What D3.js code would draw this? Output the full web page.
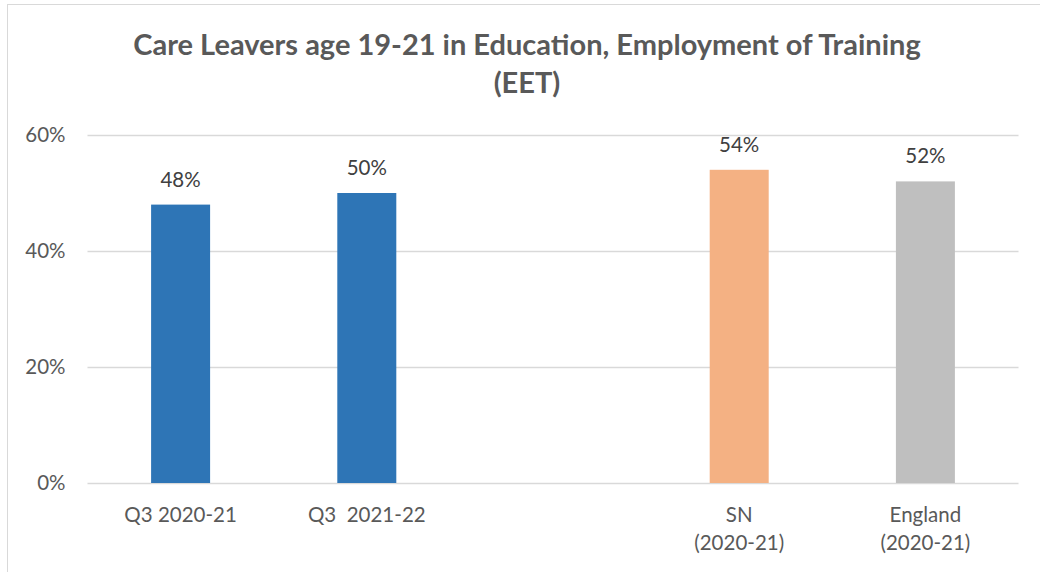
<!DOCTYPE html>
<html>
<head>
<meta charset="utf-8">
<title>Care Leavers EET</title>
<script src="https://d3js.org/d3.v7.min.js"></script>
<style>
  body { margin: 0; background: #fff; }
  text { font-family: Lato, "Open Sans", sans-serif; }
</style>
</head>
<body>
<svg id="chart"></svg>
<script>
// data
var categories = ["Q3 2020-21", "Q3  2021-22", "", "SN\n(2020-21)", "England\n(2020-21)"];
var values = [0.48, 0.50, null, 0.54, 0.52];
var colors = ["#2e75b6", "#2e75b6", null, "#f4b183", "#bfbfbf"];
var yTicks = [0, 0.2, 0.4, 0.6];
var titleLines = ["Care Leavers age 19-21 in Education, Employment of Training", "(EET)"];

var W = 1040, H = 572;
var margin = {top: 135, right: 22, bottom: 89, left: 87.5};

var svg = d3.select("#chart").attr("width", W).attr("height", H);

// outer chart border
svg.append("rect")
  .attr("x", 7.5).attr("y", 4.5)
  .attr("width", W).attr("height", H)
  .attr("fill", "none").attr("stroke", "#d9d9d9").attr("stroke-width", 1);

var x = d3.scaleBand()
  .domain(d3.range(categories.length))
  .range([margin.left, W - margin.right + 0.5])
  .padding(0);

var y = d3.scaleLinear()
  .domain([0, 0.6])
  .range([H - margin.bottom, margin.top]);

// title
svg.append("g").selectAll("text")
  .data(titleLines)
  .enter().append("text")
  .attr("x", 527)
  .attr("y", function(d, i) { return 55 + i * 38; })
  .attr("text-anchor", "middle")
  .attr("fill", "#595959")
  .attr("font-weight", "bold")
  .attr("font-size", 29)
  .text(function(d) { return d; });

// gridlines + y labels
var yAxis = d3.axisLeft(y)
  .tickValues(yTicks)
  .tickSize(-(x.range()[1] - x.range()[0]))
  .tickPadding(22)
  .tickFormat(d3.format(".0%"));

var gy = svg.append("g")
  .attr("transform", "translate(" + margin.left + ",0)")
  .call(yAxis);
gy.select(".domain").remove();
gy.selectAll(".tick line").attr("stroke", "#d9d9d9").attr("stroke-width", 1.5);
gy.selectAll(".tick text")
  .attr("fill", "#595959")
  .attr("font-size", 20.5);

// bars
var barW = 59;
var data = categories.map(function(c, i) { return {i: i, v: values[i], c: colors[i]}; })
  .filter(function(d) { return d.v != null; });

svg.append("g").selectAll("rect")
  .data(data)
  .enter().append("rect")
  .attr("x", function(d) { return x(d.i) + x.bandwidth() / 2 - barW / 2; })
  .attr("y", function(d) { return y(d.v); })
  .attr("width", barW)
  .attr("height", function(d) { return y(0) - y(d.v); })
  .attr("fill", function(d) { return d.c; });

// data labels
svg.append("g").selectAll("text")
  .data(data)
  .enter().append("text")
  .attr("x", function(d) { return x(d.i) + x.bandwidth() / 2; })
  .attr("y", function(d) { return y(d.v) - 18; })
  .attr("text-anchor", "middle")
  .attr("fill", "#404040")
  .attr("font-size", 20.5)
  .text(function(d) { return d3.format(".0%")(d.v); });

// category labels
var gx = svg.append("g");
categories.forEach(function(c, i) {
  if (!c) return;
  var t = gx.append("text")
    .attr("text-anchor", "middle")
    .attr("fill", "#595959")
    .attr("font-size", 20.5)
    .attr("xml:space", "preserve");
  c.split("\n").forEach(function(line, j) {
    t.append("tspan")
      .attr("x", x(i) + x.bandwidth() / 2)
      .attr("y", 522 + j * 28)
      .text(line);
  });
});
</script>
</body>
</html>
